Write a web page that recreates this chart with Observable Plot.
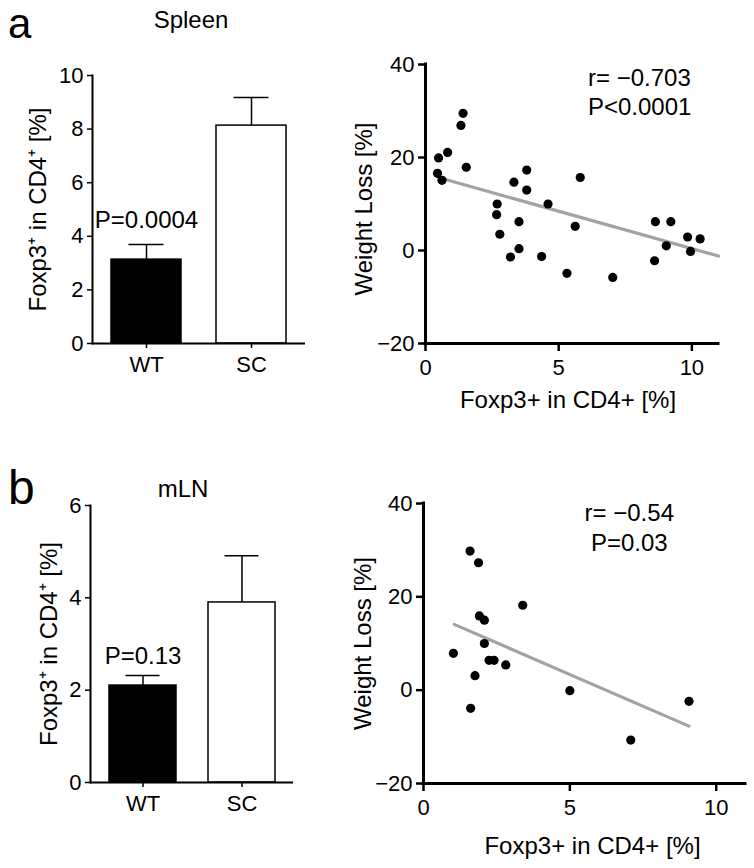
<!DOCTYPE html>
<html><head><meta charset="utf-8">
<script src="https://cdn.jsdelivr.net/npm/d3@7"></script>
<script src="https://cdn.jsdelivr.net/npm/@observablehq/plot@0.6"></script>
<style>
body{margin:0;background:#fff;}
#fig{position:relative;width:754px;height:868px;font-family:"Liberation Sans",Arial,Helvetica,sans-serif;color:#000;background:#fff;overflow:hidden}
.lab{position:absolute;white-space:nowrap;line-height:1;z-index:5}
.panel{position:absolute;z-index:1}
</style></head><body>
<div id="fig">
  <div class="panel" id="p1" style="left:0;top:40px"></div>
  <div class="panel" id="p2" style="left:340px;top:40px"></div>
  <div class="panel" id="p3" style="left:0;top:470px"></div>
  <div class="panel" id="p4" style="left:340px;top:480px"></div>
  <div class="lab" style="left:8px;top:3px;font-size:42px">a</div>
  <div class="lab" style="left:191px;top:8px;font-size:24px;transform:translateX(-50%)">Spleen</div>
  <div class="lab" style="left:8px;top:464px;font-size:48px">b</div>
  <div class="lab" style="left:183px;top:477px;font-size:24px;transform:translateX(-50%)">mLN</div>
</div>
<script>
// ---- data ----
const groups = ["WT", "SC"];
const spleenMean = [3.13, 8.13];
const spleenSem = [0.56, 1.05];
const mlnMean = [2.10, 3.90];
const mlnSem = [0.22, 1.01];
const spleenBarTicks = [0, 2, 4, 6, 8, 10];
const mlnBarTicks = [0, 2, 4, 6];
const spleenPText = "P=0.0004";
const mlnPText = "P=0.13";

const spleenX = [0.49, 0.45, 0.62, 0.83, 1.41, 1.33, 1.53, 2.69, 2.67, 2.79, 3.32, 3.19, 3.51, 3.51, 3.80, 3.80, 4.36, 4.60, 5.31, 5.62, 5.81, 7.03, 8.63, 8.60, 9.21, 9.04, 9.84, 9.95, 10.31];
const spleenY = [19.9, 16.6, 15.1, 21.1, 29.5, 26.9, 17.9, 10.0, 7.7, 3.5, 14.7, -1.4, 6.2, 0.4, 17.3, 13.0, -1.3, 10.0, -4.9, 5.2, 15.7, -5.8, 6.2, -2.2, 6.2, 1.0, 2.9, -0.2, 2.5];
const spleenFitX = [0.49, 11.0];
const spleenFitY = [15.7, -1.2];
const spleenStats = ["r= \u22120.703", "P<0.0001"];

const mlnX = [1.59, 1.88, 1.02, 1.91, 2.08, 2.08, 1.76, 1.61, 2.24, 2.41, 2.81, 3.39, 5.00, 7.08, 9.07];
const mlnY = [29.8, 27.3, 7.9, 15.9, 15.0, 10.0, 3.1, -3.9, 6.4, 6.4, 5.4, 18.2, -0.1, -10.7, -2.4];
const mlnFitX = [1.05, 9.07];
const mlnFitY = [14.1, -7.7];
const mlnStats = ["r= \u22120.54", "P=0.03"];

const scatterXTicks = [0, 5, 10];
const scatterYTicks = [-20, 0, 20, 40];
const barYLabel = "Foxp3\u207A in CD4\u207A [%]";
const scatterYLabel = "Weight Loss [%]";
const scatterXLabel = "Foxp3+ in CD4+ [%]";

const FONT = '"Liberation Sans", Arial, Helvetica, sans-serif';
const fmt = d => d < 0 ? "\u2212" + Math.abs(d) : String(d);

function barChart(o) {
  const rows = groups.map((g, i) => ({g, mean: o.mean[i], top: o.mean[i] + o.sem[i]}));
  return Plot.plot({
    width: o.width, height: o.height,
    marginTop: o.mt, marginBottom: o.mb, marginLeft: o.ml, marginRight: o.mr,
    style: {fontFamily: FONT, fontSize: "22px", color: "black", background: "transparent", overflow: "visible"},
    x: {domain: groups, paddingInner: o.pi, paddingOuter: o.po, label: null, axis: null},
    y: {domain: [0, o.ticks[o.ticks.length - 1]], label: null, axis: null},
    marks: [
      Plot.barY(rows, {x: "g", y: "mean", fill: d => d.g === "WT" ? "black" : "white", stroke: "black", strokeWidth: 1.5}),
      Plot.ruleX(rows, {x: "g", y1: "mean", y2: "top", stroke: "black", strokeWidth: 1.5}),
      Plot.tickY(rows, {x: "g", y: "top", insetLeft: o.capInset, insetRight: o.capInset, stroke: "black", strokeWidth: 1.5}),
      Plot.text([o.pText], {x: [groups[0]], y: [o.pY], text: [o.pText], fontSize: 24, fill: "black"}),
      Plot.axisX({tickSize: 5, tickPadding: 8, fontSize: 22, label: null, stroke: "black", strokeWidth: 1.5}),
      Plot.axisY({ticks: o.ticks, tickFormat: fmt, tickSize: 5, tickPadding: 4, fontSize: 22, label: null, stroke: "black", strokeWidth: 1.5}),
      Plot.ruleY([0], {stroke: "black", strokeWidth: 2}),
      Plot.frame({anchor: "left", stroke: "black", strokeWidth: 2}),
      Plot.text([barYLabel], {frameAnchor: "left", textAnchor: "middle", rotate: -90, dx: o.labelDx, fontSize: 24, fill: "black"})
    ]
  });
}

function scatterChart(o) {
  const pts = o.x.map((x, i) => ({x, y: o.y[i]}));
  const fit = o.fitX.map((x, i) => ({x, y: o.fitY[i]}));
  return Plot.plot({
    width: o.width, height: o.height,
    marginTop: o.mt, marginBottom: o.mb, marginLeft: o.ml, marginRight: o.mr,
    style: {fontFamily: FONT, fontSize: "22px", color: "black", background: "transparent", overflow: "visible"},
    x: {domain: [0, 11], label: null, axis: null},
    y: {domain: [-20, 40], label: null, axis: null},
    marks: [
      Plot.line(fit, {x: "x", y: "y", stroke: "#a3a3a3", strokeWidth: 3.2}),
      Plot.dot(pts, {x: "x", y: "y", r: 4.6, fill: "black"}),
      Plot.ruleY([-20], {stroke: "black", strokeWidth: 3, strokeLinecap: "square"}),
      Plot.ruleX([0], {y1: -20, y2: 40, stroke: "black", strokeWidth: 3, strokeLinecap: "square"}),
      Plot.axisX({ticks: scatterXTicks, tickFormat: fmt, tickSize: 8, tickPadding: 8, fontSize: 22, label: null, stroke: "black", strokeWidth: 2.5}),
      Plot.axisY({ticks: scatterYTicks, tickFormat: fmt, tickSize: 7, tickPadding: 4, fontSize: 22, label: null, stroke: "black", strokeWidth: 2.5}),
      Plot.text(o.stats, {x: o.statX, y: o.statY, text: o.stats, textAnchor: o.statAnchor, fontSize: 24, fill: "black"}),
      Plot.text([scatterYLabel], {frameAnchor: "left", textAnchor: "middle", rotate: -90, dx: o.yLabelDx, dy: o.yLabelDy, fontSize: 24, fill: "black"}),
      Plot.text([scatterXLabel], {frameAnchor: "bottom", textAnchor: "middle", dy: o.xLabelDy, dx: o.xLabelDx, fontSize: 24, fill: "black"})
    ]
  });
}

document.getElementById("p1").append(barChart({
  mean: spleenMean, sem: spleenSem, ticks: spleenBarTicks, pText: spleenPText, pY: 4.6,
  width: 320, height: 350, mt: 35, mb: 47, ml: 92, mr: 15, pi: 0.33, po: 0.17, capInset: 17.5, labelDx: -54
}));
document.getElementById("p2").append(scatterChart({
  x: spleenX, y: spleenY, fitX: spleenFitX, fitY: spleenFitY,
  stats: spleenStats, statX: [6.1, 6.1], statY: [37.0, 30.8], statAnchor: "start",
  width: 400, height: 380, mt: 24, mb: 77, ml: 85, mr: 22, yLabelDx: -61, yLabelDy: 5, xLabelDy: 64, xLabelDx: -4
}));
document.getElementById("p3").append(barChart({
  mean: mlnMean, sem: mlnSem, ticks: mlnBarTicks, pText: mlnPText, pY: 2.73,
  width: 320, height: 370, mt: 35, mb: 58, ml: 90, mr: 27, pi: 0.325, po: 0.18, capInset: 16.5, labelDx: -41.5
}));
document.getElementById("p4").append(scatterChart({
  x: mlnX, y: mlnY, fitX: mlnFitX, fitY: mlnFitY,
  stats: mlnStats, statX: [7.03, 7.03], statY: [37.9, 31.5], statAnchor: "middle",
  width: 410, height: 380, mt: 23, mb: 77, ml: 83, mr: 5, yLabelDx: -60, yLabelDy: 0, xLabelDy: 70, xLabelDx: 8
}));
</script>
</body></html>
